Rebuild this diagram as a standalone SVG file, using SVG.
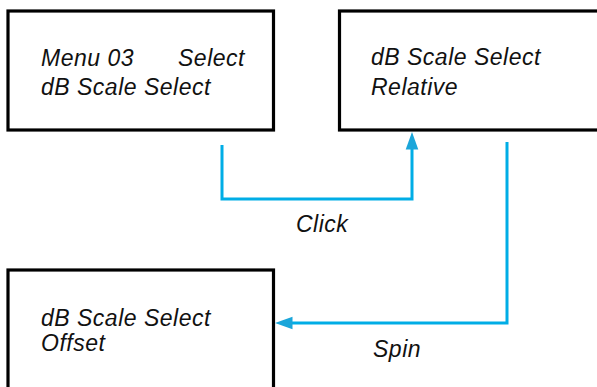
<svg xmlns="http://www.w3.org/2000/svg" width="597" height="387" viewBox="0 0 597 387">
<style>
.box{fill:#fff;stroke:#000;stroke-width:3.2}
.t{font-family:"Liberation Sans",Arial,sans-serif;font-style:italic;font-size:23px;letter-spacing:0.5px;fill:#111}
.c{fill:none;stroke:#00ADE6;stroke-width:3}
.ah{fill:#1BA6DA}
</style>
<rect width="597" height="387" fill="#fff"/>
<g id="node-menu03">
<rect class="box" x="8" y="11" width="265.5" height="119"/>
<text class="t" x="41" y="66">Menu 03</text>
<text class="t" x="178" y="66">Select</text>
<text class="t" x="41" y="95">dB Scale Select</text>
</g>
<g id="node-relative">
<rect class="box" x="339.5" y="11" width="270" height="119"/>
<text class="t" x="371" y="65">dB Scale Select</text>
<text class="t" x="371" y="95">Relative</text>
</g>
<g id="node-offset">
<rect class="box" x="8" y="270" width="265.5" height="130"/>
<text class="t" x="41" y="325.5">dB Scale Select</text>
<text class="t" x="41" y="350.5">Offset</text>
</g>
<g id="connectors">
<polyline class="c" points="222,145 222,199 412,199 412,147"/>
<polygon class="ah" points="412,132 405.7,149.5 418.3,149.5"/>
<polyline class="c" points="507,142 507,323 290,323"/>
<polygon class="ah" points="275,323 292.5,316.7 292.5,329.3"/>
<text class="t" x="296" y="232">Click</text>
<text class="t" x="373" y="357">Spin</text>
</g>
</svg>
